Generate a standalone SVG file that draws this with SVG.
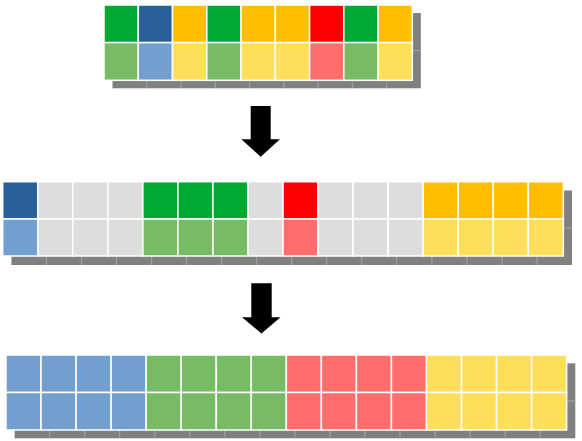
<svg xmlns="http://www.w3.org/2000/svg" width="582" height="441" viewBox="0 0 582 441">
<style>
.sh{fill:#808080}
.shl{stroke:#a6a6a6;stroke-width:1;fill:none}
rect.c{stroke:#ffffff;stroke-width:1.5}
.g1{fill:#00a933}.g2{fill:#77bc65}
.b1{fill:#2a6099}.b2{fill:#729fcf}
.o1{fill:#ffbf00}.o2{fill:#ffde59}
.r1{fill:#ff0000}.r2{fill:#ff6d6d}
.n{fill:#dddddd}
.arr{fill:#000000}
</style>
<rect width="582" height="441" fill="#ffffff"/>
<g id="row-input">
<rect class="sh" x="112.5" y="13" width="308.3" height="75.3"/>
<path class="shl" d="M146.8 80.3V88.3M181 80.3V88.3M215.3 80.3V88.3M249.5 80.3V88.3M283.8 80.3V88.3M318.1 80.3V88.3M352.3 80.3V88.3M386.6 80.3V88.3M412.3 50.6H420.8"/>
<rect class="c g1" x="104" y="5" width="34.3" height="37.6"/>
<rect class="c b1" x="138.3" y="5" width="34.2" height="37.6"/>
<rect class="c o1" x="172.5" y="5" width="34.3" height="37.6"/>
<rect class="c g1" x="206.8" y="5" width="34.2" height="37.6"/>
<rect class="c o1" x="241" y="5" width="34.3" height="37.6"/>
<rect class="c o1" x="275.3" y="5" width="34.3" height="37.6"/>
<rect class="c r1" x="309.6" y="5" width="34.2" height="37.6"/>
<rect class="c g1" x="343.8" y="5" width="34.3" height="37.6"/>
<rect class="c o1" x="378.1" y="5" width="34.2" height="37.6"/>
<rect class="c g2" x="104" y="42.6" width="34.3" height="37.7"/>
<rect class="c b2" x="138.3" y="42.6" width="34.2" height="37.7"/>
<rect class="c o2" x="172.5" y="42.6" width="34.3" height="37.7"/>
<rect class="c g2" x="206.8" y="42.6" width="34.2" height="37.7"/>
<rect class="c o2" x="241" y="42.6" width="34.3" height="37.7"/>
<rect class="c o2" x="275.3" y="42.6" width="34.3" height="37.7"/>
<rect class="c r2" x="309.6" y="42.6" width="34.2" height="37.7"/>
<rect class="c g2" x="343.8" y="42.6" width="34.3" height="37.7"/>
<rect class="c o2" x="378.1" y="42.6" width="34.2" height="37.7"/>
</g>
<g id="row-buckets">
<rect class="sh" x="11.4" y="190.5" width="560.6" height="74.5"/>
<path class="shl" d="M46.4 256V265M81.5 256V265M116.5 256V265M151.6 256V265M186.6 256V265M221.6 256V265M256.7 256V265M291.7 256V265M326.8 256V265M361.8 256V265M396.8 256V265M431.9 256V265M466.9 256V265M502 256V265M537 256V265M563.3 228H572"/>
<rect class="c b1" x="2.7" y="181.7" width="35.04" height="37.3"/>
<rect class="c n" x="37.74" y="181.7" width="35.04" height="37.3"/>
<rect class="c n" x="72.78" y="181.7" width="35.04" height="37.3"/>
<rect class="c n" x="107.82" y="181.7" width="35.04" height="37.3"/>
<rect class="c g1" x="142.86" y="181.7" width="35.04" height="37.3"/>
<rect class="c g1" x="177.9" y="181.7" width="35.04" height="37.3"/>
<rect class="c g1" x="212.94" y="181.7" width="35.04" height="37.3"/>
<rect class="c n" x="247.98" y="181.7" width="35.04" height="37.3"/>
<rect class="c r1" x="283.02" y="181.7" width="35.04" height="37.3"/>
<rect class="c n" x="318.06" y="181.7" width="35.04" height="37.3"/>
<rect class="c n" x="353.1" y="181.7" width="35.04" height="37.3"/>
<rect class="c n" x="388.14" y="181.7" width="35.04" height="37.3"/>
<rect class="c o1" x="423.18" y="181.7" width="35.04" height="37.3"/>
<rect class="c o1" x="458.22" y="181.7" width="35.04" height="37.3"/>
<rect class="c o1" x="493.26" y="181.7" width="35.04" height="37.3"/>
<rect class="c o1" x="528.3" y="181.7" width="35.04" height="37.3"/>
<rect class="c b2" x="2.7" y="219" width="35.04" height="37"/>
<rect class="c n" x="37.74" y="219" width="35.04" height="37"/>
<rect class="c n" x="72.78" y="219" width="35.04" height="37"/>
<rect class="c n" x="107.82" y="219" width="35.04" height="37"/>
<rect class="c g2" x="142.86" y="219" width="35.04" height="37"/>
<rect class="c g2" x="177.9" y="219" width="35.04" height="37"/>
<rect class="c g2" x="212.94" y="219" width="35.04" height="37"/>
<rect class="c n" x="247.98" y="219" width="35.04" height="37"/>
<rect class="c r2" x="283.02" y="219" width="35.04" height="37"/>
<rect class="c n" x="318.06" y="219" width="35.04" height="37"/>
<rect class="c n" x="353.1" y="219" width="35.04" height="37"/>
<rect class="c n" x="388.14" y="219" width="35.04" height="37"/>
<rect class="c o2" x="423.18" y="219" width="35.04" height="37"/>
<rect class="c o2" x="458.22" y="219" width="35.04" height="37"/>
<rect class="c o2" x="493.26" y="219" width="35.04" height="37"/>
<rect class="c o2" x="528.3" y="219" width="35.04" height="37"/>
</g>
<g id="row-sorted">
<rect class="sh" x="14.6" y="363.3" width="560.7" height="75"/>
<path class="shl" d="M49.6 430V438.3M84.7 430V438.3M119.7 430V438.3M154.8 430V438.3M189.8 430V438.3M224.8 430V438.3M259.9 430V438.3M294.9 430V438.3M330 430V438.3M365 430V438.3M400 430V438.3M435.1 430V438.3M470.1 430V438.3M505.2 430V438.3M540.2 430V438.3M566.6 401H575.3"/>
<rect class="c b2" x="6" y="355" width="35.04" height="37.5"/>
<rect class="c b2" x="41.04" y="355" width="35.04" height="37.5"/>
<rect class="c b2" x="76.08" y="355" width="35.04" height="37.5"/>
<rect class="c b2" x="111.12" y="355" width="35.04" height="37.5"/>
<rect class="c g2" x="146.16" y="355" width="35.04" height="37.5"/>
<rect class="c g2" x="181.2" y="355" width="35.04" height="37.5"/>
<rect class="c g2" x="216.24" y="355" width="35.04" height="37.5"/>
<rect class="c g2" x="251.28" y="355" width="35.04" height="37.5"/>
<rect class="c r2" x="286.32" y="355" width="35.04" height="37.5"/>
<rect class="c r2" x="321.36" y="355" width="35.04" height="37.5"/>
<rect class="c r2" x="356.4" y="355" width="35.04" height="37.5"/>
<rect class="c r2" x="391.44" y="355" width="35.04" height="37.5"/>
<rect class="c o2" x="426.48" y="355" width="35.04" height="37.5"/>
<rect class="c o2" x="461.52" y="355" width="35.04" height="37.5"/>
<rect class="c o2" x="496.56" y="355" width="35.04" height="37.5"/>
<rect class="c o2" x="531.6" y="355" width="35.04" height="37.5"/>
<rect class="c b2" x="6" y="392.5" width="35.04" height="37.5"/>
<rect class="c b2" x="41.04" y="392.5" width="35.04" height="37.5"/>
<rect class="c b2" x="76.08" y="392.5" width="35.04" height="37.5"/>
<rect class="c b2" x="111.12" y="392.5" width="35.04" height="37.5"/>
<rect class="c g2" x="146.16" y="392.5" width="35.04" height="37.5"/>
<rect class="c g2" x="181.2" y="392.5" width="35.04" height="37.5"/>
<rect class="c g2" x="216.24" y="392.5" width="35.04" height="37.5"/>
<rect class="c g2" x="251.28" y="392.5" width="35.04" height="37.5"/>
<rect class="c r2" x="286.32" y="392.5" width="35.04" height="37.5"/>
<rect class="c r2" x="321.36" y="392.5" width="35.04" height="37.5"/>
<rect class="c r2" x="356.4" y="392.5" width="35.04" height="37.5"/>
<rect class="c r2" x="391.44" y="392.5" width="35.04" height="37.5"/>
<rect class="c o2" x="426.48" y="392.5" width="35.04" height="37.5"/>
<rect class="c o2" x="461.52" y="392.5" width="35.04" height="37.5"/>
<rect class="c o2" x="496.56" y="392.5" width="35.04" height="37.5"/>
<rect class="c o2" x="531.6" y="392.5" width="35.04" height="37.5"/>
</g>
<g id="connectors">
<polygon class="arr" points="250.7,106 270.7,106 270.7,139.3 280,139.3 260.7,156.7 241.3,139.3 250.7,139.3"/>
<polygon class="arr" points="251.3,283.3 271.7,283.3 271.7,317.3 280.5,317.3 261.5,333.5 242,317.3 251.3,317.3"/>
</g>
</svg>
